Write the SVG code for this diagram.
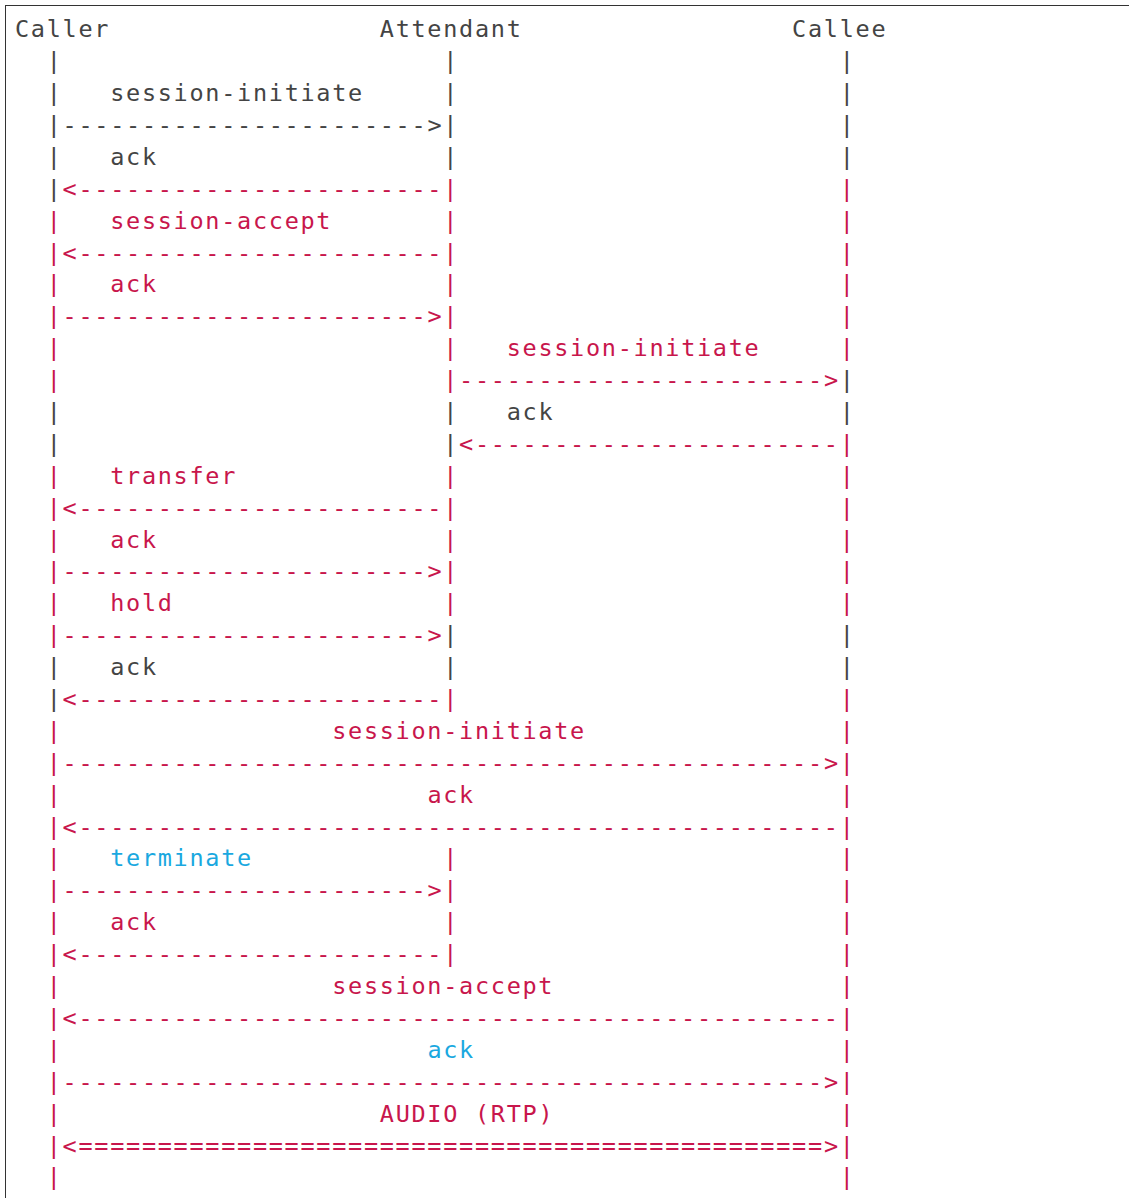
<svg xmlns="http://www.w3.org/2000/svg" width="1129" height="1198" viewBox="0 0 1129 1198">
  <style>
    text { font-family: "DejaVu Sans Mono", "Liberation Mono", monospace; font-size: 23.5px; letter-spacing: 1.71px; }
    .g { fill: #444444; }
    .r { fill: #c8164c; }
    .c { fill: #1aa8e0; }
  </style>
  <rect x="0" y="0" width="1129" height="1198" fill="#ffffff"/>
  <!-- frame around the listing -->
  <rect x="5.5" y="5.5" width="1150" height="1230" fill="none" stroke="#333333" stroke-width="1"/>

  <!-- participants -->
  <g id="caller"><text x="15" y="37.3" class="g">Caller</text></g>
  <g id="attendant"><text x="379.8" y="37.3" class="g">Attendant</text></g>
  <g id="callee"><text x="792.1" y="37.3" class="g">Callee</text></g>

  <!-- lifelines and messages, one text line per row -->
  <g id="connectors">
    <text y="69.2"><tspan x="46.7" class="g">|</tspan><tspan x="443.2" class="g">|</tspan><tspan x="839.7" class="g">|</tspan></text>
    <text y="101.1"><tspan x="46.7" class="g">|</tspan><tspan x="110.2" class="g">session-initiate</tspan><tspan x="443.2" class="g">|</tspan><tspan x="839.7" class="g">|</tspan></text>
    <text y="133.0"><tspan x="46.7" class="g">|</tspan><tspan x="62.6" class="g">-----------------------</tspan><tspan x="427.4" class="g">&gt;</tspan><tspan x="443.2" class="g">|</tspan><tspan x="839.7" class="g">|</tspan></text>
    <text y="164.9"><tspan x="46.7" class="g">|</tspan><tspan x="110.2" class="g">ack</tspan><tspan x="443.2" class="g">|</tspan><tspan x="839.7" class="g">|</tspan></text>
    <text y="196.8"><tspan x="46.7" class="g">|</tspan><tspan x="62.6" class="r">&lt;-----------------------</tspan><tspan x="443.2" class="r">|</tspan><tspan x="839.7" class="r">|</tspan></text>
    <text y="228.6"><tspan x="46.7" class="r">|</tspan><tspan x="110.2" class="r">session-accept</tspan><tspan x="443.2" class="r">|</tspan><tspan x="839.7" class="r">|</tspan></text>
    <text y="260.5"><tspan x="46.7" class="r">|</tspan><tspan x="62.6" class="r">&lt;-----------------------</tspan><tspan x="443.2" class="r">|</tspan><tspan x="839.7" class="r">|</tspan></text>
    <text y="292.4"><tspan x="46.7" class="r">|</tspan><tspan x="110.2" class="r">ack</tspan><tspan x="443.2" class="r">|</tspan><tspan x="839.7" class="r">|</tspan></text>
    <text y="324.3"><tspan x="46.7" class="r">|</tspan><tspan x="62.6" class="r">-----------------------</tspan><tspan x="427.4" class="r">&gt;</tspan><tspan x="443.2" class="r">|</tspan><tspan x="839.7" class="r">|</tspan></text>
    <text y="356.2"><tspan x="46.7" class="r">|</tspan><tspan x="443.2" class="r">|</tspan><tspan x="506.7" class="r">session-initiate</tspan><tspan x="839.7" class="r">|</tspan></text>
    <text y="388.1"><tspan x="46.7" class="r">|</tspan><tspan x="443.2" class="r">|</tspan><tspan x="459.1" class="r">-----------------------</tspan><tspan x="823.9" class="r">&gt;</tspan><tspan x="839.7" class="g">|</tspan></text>
    <text y="420.0"><tspan x="46.7" class="g">|</tspan><tspan x="443.2" class="g">|</tspan><tspan x="506.7" class="g">ack</tspan><tspan x="839.7" class="g">|</tspan></text>
    <text y="451.9"><tspan x="46.7" class="g">|</tspan><tspan x="443.2" class="g">|</tspan><tspan x="459.1" class="r">&lt;-----------------------</tspan><tspan x="839.7" class="r">|</tspan></text>
    <text y="483.8"><tspan x="46.7" class="r">|</tspan><tspan x="110.2" class="r">transfer</tspan><tspan x="443.2" class="r">|</tspan><tspan x="839.7" class="r">|</tspan></text>
    <text y="515.7"><tspan x="46.7" class="r">|</tspan><tspan x="62.6" class="r">&lt;-----------------------</tspan><tspan x="443.2" class="r">|</tspan><tspan x="839.7" class="r">|</tspan></text>
    <text y="547.5"><tspan x="46.7" class="r">|</tspan><tspan x="110.2" class="r">ack</tspan><tspan x="443.2" class="r">|</tspan><tspan x="839.7" class="r">|</tspan></text>
    <text y="579.4"><tspan x="46.7" class="r">|</tspan><tspan x="62.6" class="r">-----------------------</tspan><tspan x="427.4" class="r">&gt;</tspan><tspan x="443.2" class="r">|</tspan><tspan x="839.7" class="r">|</tspan></text>
    <text y="611.3"><tspan x="46.7" class="r">|</tspan><tspan x="110.2" class="r">hold</tspan><tspan x="443.2" class="r">|</tspan><tspan x="839.7" class="r">|</tspan></text>
    <text y="643.2"><tspan x="46.7" class="r">|</tspan><tspan x="62.6" class="r">-----------------------</tspan><tspan x="427.4" class="r">&gt;</tspan><tspan x="443.2" class="g">|</tspan><tspan x="839.7" class="g">|</tspan></text>
    <text y="675.1"><tspan x="46.7" class="g">|</tspan><tspan x="110.2" class="g">ack</tspan><tspan x="443.2" class="g">|</tspan><tspan x="839.7" class="g">|</tspan></text>
    <text y="707.0"><tspan x="46.7" class="g">|</tspan><tspan x="62.6" class="r">&lt;-----------------------</tspan><tspan x="443.2" class="r">|</tspan><tspan x="839.7" class="r">|</tspan></text>
    <text y="738.9"><tspan x="46.7" class="r">|</tspan><tspan x="332.2" class="r">session-initiate</tspan><tspan x="839.7" class="r">|</tspan></text>
    <text y="770.8"><tspan x="46.7" class="r">|</tspan><tspan x="62.6" class="r">------------------------------------------------</tspan><tspan x="823.9" class="r">&gt;</tspan><tspan x="839.7" class="r">|</tspan></text>
    <text y="802.7"><tspan x="46.7" class="r">|</tspan><tspan x="427.4" class="r">ack</tspan><tspan x="839.7" class="r">|</tspan></text>
    <text y="834.6"><tspan x="46.7" class="r">|</tspan><tspan x="62.6" class="r">&lt;------------------------------------------------</tspan><tspan x="839.7" class="r">|</tspan></text>
    <text y="866.4"><tspan x="46.7" class="r">|</tspan><tspan x="110.2" class="c">terminate</tspan><tspan x="443.2" class="r">|</tspan><tspan x="839.7" class="r">|</tspan></text>
    <text y="898.3"><tspan x="46.7" class="r">|</tspan><tspan x="62.6" class="r">-----------------------</tspan><tspan x="427.4" class="r">&gt;</tspan><tspan x="443.2" class="r">|</tspan><tspan x="839.7" class="r">|</tspan></text>
    <text y="930.2"><tspan x="46.7" class="r">|</tspan><tspan x="110.2" class="r">ack</tspan><tspan x="443.2" class="r">|</tspan><tspan x="839.7" class="r">|</tspan></text>
    <text y="962.1"><tspan x="46.7" class="r">|</tspan><tspan x="62.6" class="r">&lt;-----------------------</tspan><tspan x="443.2" class="r">|</tspan><tspan x="839.7" class="r">|</tspan></text>
    <text y="994.0"><tspan x="46.7" class="r">|</tspan><tspan x="332.2" class="r">session-accept</tspan><tspan x="839.7" class="r">|</tspan></text>
    <text y="1025.9"><tspan x="46.7" class="r">|</tspan><tspan x="62.6" class="r">&lt;------------------------------------------------</tspan><tspan x="839.7" class="r">|</tspan></text>
    <text y="1057.8"><tspan x="46.7" class="r">|</tspan><tspan x="427.4" class="c">ack</tspan><tspan x="839.7" class="r">|</tspan></text>
    <text y="1089.7"><tspan x="46.7" class="r">|</tspan><tspan x="62.6" class="r">------------------------------------------------</tspan><tspan x="823.9" class="r">&gt;</tspan><tspan x="839.7" class="r">|</tspan></text>
    <text y="1121.6"><tspan x="46.7" class="r">|</tspan><tspan x="379.8" class="r">AUDIO (RTP)</tspan><tspan x="839.7" class="r">|</tspan></text>
    <text y="1153.5"><tspan x="46.7" class="r">|</tspan><tspan x="62.6" class="r">&lt;===============================================</tspan><tspan x="823.9" class="r">&gt;</tspan><tspan x="839.7" class="r">|</tspan></text>
    <text y="1185.3"><tspan x="46.7" class="r">|</tspan><tspan x="839.7" class="r">|</tspan></text>
  </g>
</svg>
